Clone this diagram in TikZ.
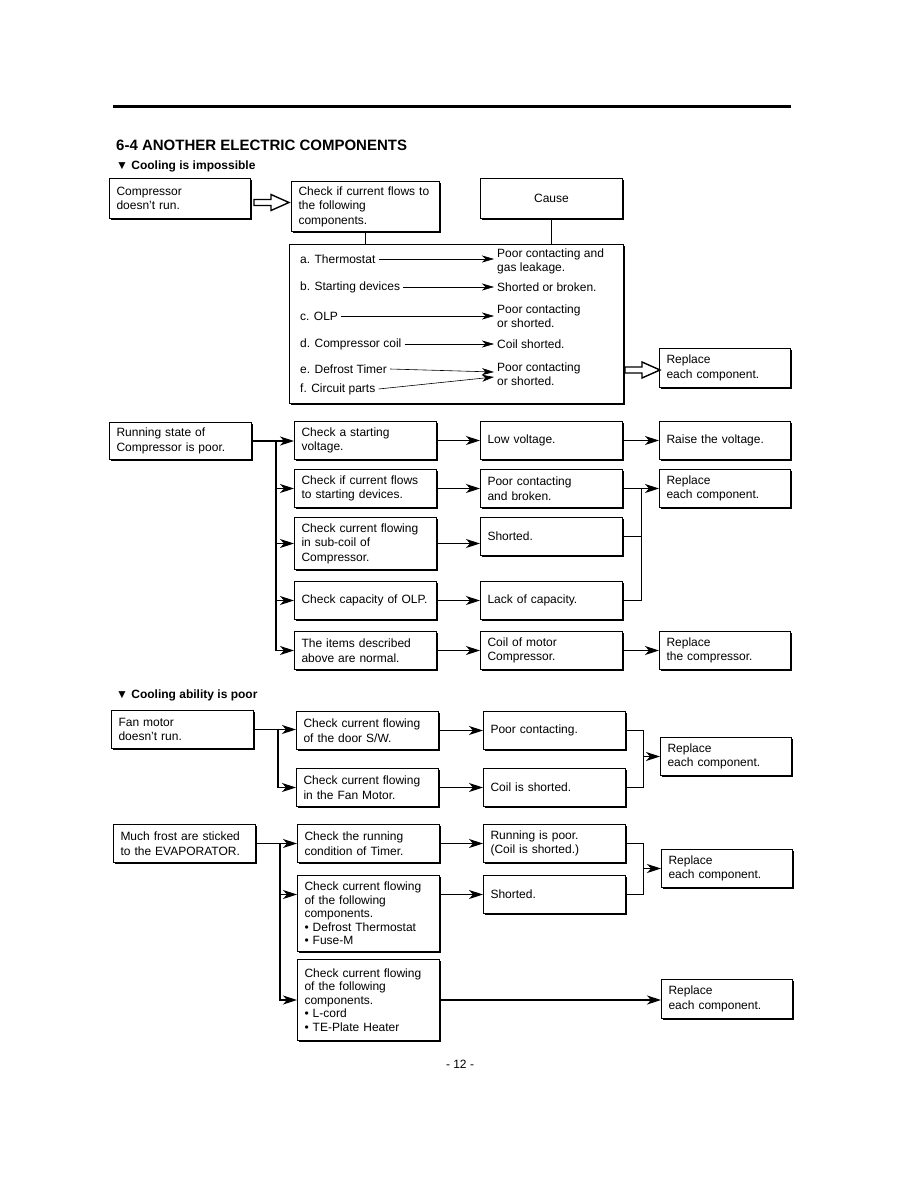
\documentclass[tikz,border=0pt]{standalone}
\usepackage{fontspec}
\setmainfont{Liberation Sans}
\usetikzlibrary{arrows.meta,positioning,calc,shadows}

\tikzset{
  box/.style={draw, line width=1pt, fill=white, anchor=north west, align=left,
    inner xsep=7pt, inner ysep=2pt, font=\fontsize{12}{14.5}\selectfont,
    general shadow={fill=black, shadow xshift=1.8pt, shadow yshift=-1.8pt}},
  wide/.style={box, text width=128pt},   % 142 wide
  narrow/.style={box, text width=117pt}, % 131 wide
  tight/.style={font=\fontsize{12}{13.6}\selectfont},
  arr/.style={-{Stealth[length=14pt,width=9pt,inset=4pt]}, line width=1.1pt},
  thinarr/.style={-{Stealth[length=12pt,width=7pt,inset=3.5pt]}, line width=0.6pt},
  item/.style={anchor=west, align=left, inner xsep=3pt, inner ysep=0pt,
    font=\fontsize{12}{14}\selectfont},
  hollow/.pic={\draw[line width=1.4pt] (0,-3) -- (17,-3) -- (17,-8) -- (35,0)
    -- (17,8) -- (17,3) -- (0,3) -- cycle;}
}

\begin{document}
\begin{tikzpicture}[x=1pt,y=-1pt]
  \useasboundingbox (0,0) rectangle (918,1188);
  % heading
  \draw[line width=3pt] (113,107) -- (791,107);
  \node[anchor=base west, inner sep=0, font=\bfseries\fontsize{15}{18}\selectfont] (title) at (116,150) {6-4 ANOTHER ELECTRIC COMPONENTS};
  \node[anchor=base west, inner sep=0, font=\bfseries\fontsize{12}{14}\selectfont] (sub1) at (116,169) {▼ Cooling is impossible};

  % compressor doesn't run
  \node[box, text width=127pt, minimum height=40pt] (comp) at (109,178) {Compressor\\doesn't run.};
  \node[box, text width=134pt, minimum height=50pt] (chk) at (291,181) {Check if current flows to\\the following\\components.};
  \node[wide, align=center, minimum height=40pt] (cause) at (480,178) {Cause};
  \node[box, text width=320pt, minimum height=159pt] (big) at (289,244) {};
  \node[narrow, minimum height=39pt] (rp1) at (659,348) {Replace\\each component.};
  \pic at ($(comp.east)+(3,4)$) {hollow};
  \pic at ($(big.east |- rp1.west)+(1,2)$) {hollow};
  \draw[line width=1pt] (chk.south) -- (chk.south |- big.north);
  \draw[line width=1pt] (cause.south) -- (cause.south |- big.north);

  % list of parts and causes
  \node[item] (ta) at (297,259) {a. Thermostat};
  \node[item] (ra) at (494,261) {Poor contacting and\\gas leakage.};
  \node[item] (tb) at (297,287) {b. Starting devices};
  \node[item] (rb) at (494,287) {Shorted or broken.};
  \node[item] (tc) at (297,316) {c. OLP};
  \node[item] (rc) at (494,316) {Poor contacting\\or shorted.};
  \node[item] (td) at (297,344) {d. Compressor coil};
  \node[item] (rd) at (494,344) {Coil shorted.};
  \node[item] (te) at (297,369) {e. Defrost Timer};
  \node[item] (tf) at (297,389) {f. Circuit parts};
  \node[item] (re) at (494,374) {Poor contacting\\or shorted.};
  \foreach \t/\r in {ta/ra,tb/rb,tc/rc,td/rd}
    \draw[thinarr] (\t.east) -- (\t.east -| \r.west);
  \draw[thinarr] (te.east) -- ($(re.west)+(0,-2)$);
  \draw[thinarr] (tf.east) -- ($(re.west)+(0,3)$);

  % running state is poor
  \node[wide, minimum height=37pt] (run) at (109,422) {Running state of\\Compressor is poor.};
  \node[wide, minimum height=38pt] (c1) at (294,421) {Check a starting\\voltage.};
  \node[wide, minimum height=38pt] (c2) at (294,469) {Check if current flows\\to starting devices.};
  \node[wide, minimum height=52pt] (c3) at (294,517) {Check current flowing\\in sub-coil of\\Compressor.};
  \node[wide, minimum height=38pt] (c4) at (294,581) {Check capacity of OLP.};
  \node[wide, minimum height=38pt] (c5) at (294,631) {The items described\\above are normal.};
  \node[wide, minimum height=38pt] (d1) at (480,421) {Low voltage.};
  \node[wide, minimum height=38pt] (d2) at (480,469) {Poor contacting\\and broken.};
  \node[wide, minimum height=38pt] (d3) at (480,517) {Shorted.};
  \node[wide, minimum height=38pt] (d4) at (480,581) {Lack of capacity.};
  \node[wide, minimum height=38pt] (d5) at (480,631) {Coil of motor\\Compressor.};
  \node[narrow, minimum height=38pt] (e1) at (659,421) {Raise the voltage.};
  \node[narrow, minimum height=38pt] (rp2) at (659,469) {Replace\\each component.};
  \node[narrow, minimum height=38pt] (e5) at (659,631) {Replace\\the compressor.};
  \coordinate (j1) at (276,0);
  \coordinate (m1) at (641,0);
  \draw[arr] (run.east) -- (run.east -| c1.west);
  \foreach \n in {c2,c3,c4,c5}
    \draw[arr] (run.east -| j1) |- (\n.west);
  \foreach \n in {1,...,5}
    \draw[arr] (c\n.east) -- (c\n.east -| d\n.west);
  \draw[arr] (d1.east) -- (e1.west);
  \draw[arr] (d2.east) -- (rp2.west);
  \draw[line width=1pt] (d3.east) -- (d3.east -| m1);
  \draw[line width=1pt] (d4.east) -| (d2.east -| m1);
  \draw[arr] (d5.east) -- (e5.west);

  % fan motor
  \node[anchor=base west, inner sep=0, font=\bfseries\fontsize{12}{14}\selectfont] (sub2) at (116,698) {▼ Cooling ability is poor};
  \node[wide, minimum height=38pt] (fan) at (111,710) {Fan motor\\doesn't run.};
  \node[wide, minimum height=38pt] (f1) at (296,711) {Check current flowing\\of the door S/W.};
  \node[wide, minimum height=38pt] (f2) at (296,768) {Check current flowing\\in the Fan Motor.};
  \node[wide, minimum height=38pt] (g1) at (483,711) {Poor contacting.};
  \node[wide, minimum height=38pt] (g2) at (483,768) {Coil is shorted.};
  \node[narrow, minimum height=38pt] (rp3) at (660,737) {Replace\\each component.};
  \coordinate (j2) at (278,0);
  \coordinate (m2) at (643,0);
  \draw[arr] (fan.east) -- (fan.east -| f1.west);
  \draw[arr] (fan.east -| j2) |- (f2.west);
  \draw[arr] (f1.east) -- (g1.west);
  \draw[arr] (f2.east) -- (g2.west);
  \draw[line width=1pt] (g1.east) -| (g2.east -| m2) -- (g2.east);
  \draw[arr] (rp3.west -| m2) -- (rp3.west);

  % frost on evaporator
  \node[wide, minimum height=38pt] (frost) at (113,824) {Much frost are sticked\\to the EVAPORATOR.};
  \node[wide, minimum height=38pt] (k1) at (297,824) {Check the running\\condition of Timer.};
  \node[wide, tight, minimum height=76pt] (k2) at (297,875) {Check current flowing\\of the following\\components.\\• Defrost Thermostat\\• Fuse-M};
  \node[wide, tight, minimum height=81pt] (k3) at (297,959) {Check current flowing\\of the following\\components.\\• L-cord\\• TE-Plate Heater};
  \node[wide, minimum height=38pt] (l1) at (483,824) {Running is poor.\\(Coil is shorted.)};
  \node[wide, minimum height=38pt] (l2) at (483,875) {Shorted.};
  \node[narrow, minimum height=38pt] (rp4) at (661,849) {Replace\\each component.};
  \node[narrow, minimum height=39pt] (rp5) at (661,979) {Replace\\each component.};
  \coordinate (j3) at (280,0);
  \draw[arr] (frost.east) -- (k1.west);
  \draw[arr] (frost.east -| j3) |- (k2.west |- l2.west);
  \draw[arr] (frost.east -| j3) |- (k3.west);
  \draw[arr] (k1.east) -- (l1.west);
  \draw[arr] (k2.east |- l2.west) -- (l2.west);
  \draw[line width=1pt] (l1.east) -| (l2.east -| m2) -- (l2.east);
  \draw[arr] (rp4.west -| m2) -- (rp4.west);
  \draw[arr] (k3.east) -- (k3.east -| rp5.west);

  \node[font=\fontsize{12}{14}\selectfont] (pg) at (460,1064) {- 12 -};
\end{tikzpicture}
\end{document}
